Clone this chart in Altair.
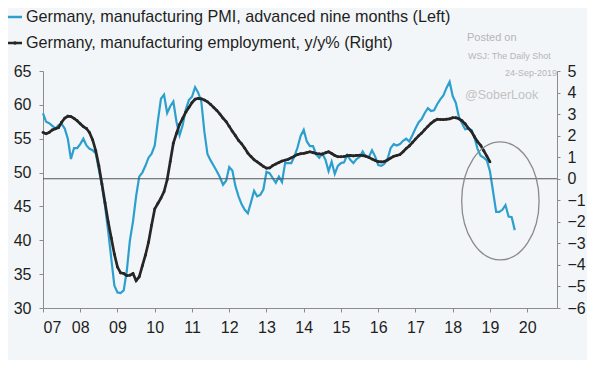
import altair as alt
import pandas as pd

# Germany manufacturing PMI, advanced nine months (left axis), monthly from Jan 2007
pmi = [58.75, 57.5, 57.3, 56.9, 56.5, 57.0, 57.2, 56.5, 55.0, 52.0,
       53.6, 53.6, 54.2, 55.0, 54.0, 53.5, 53.3, 52.8, 50.4, 48.0,
       45.0, 41.3, 37.3, 33.3, 32.3, 32.2, 32.6, 35.5, 40.0, 42.8,
       46.5, 49.4, 50.0, 51.0, 52.2, 52.8, 54.0, 57.6, 60.9, 61.5,
       58.8, 59.8, 60.5, 57.5, 55.5, 57.0, 59.3, 60.7, 61.2, 62.6,
       61.8, 60.5, 56.0, 52.7, 51.8, 51.0, 50.2, 49.3, 48.2, 48.8,
       50.8, 50.3, 48.0, 46.5, 45.3, 44.5, 44.0, 45.6, 47.3, 46.5,
       46.7, 47.5, 50.1, 49.9, 49.2, 48.5, 49.4, 48.6, 51.4, 51.4,
       51.4, 52.4, 53.7, 55.4, 56.3, 54.6, 53.9, 53.9, 52.7, 52.2,
       52.8, 51.9, 50.2, 51.6, 49.8, 51.0, 51.4, 51.5, 52.6, 51.9,
       51.4, 52.0, 52.3, 53.1, 52.3, 52.3, 53.3, 52.4, 51.1, 51.0,
       51.3, 52.0, 53.6, 54.2, 54.0, 54.2, 54.7, 55.0, 54.6, 55.5,
       56.5, 57.4, 57.9, 58.8, 59.5, 59.1, 59.2, 60.1, 60.8, 61.4,
       62.5, 63.4, 61.3, 60.3, 58.2, 57.3, 56.4, 56.5, 56.3, 55.2,
       53.5, 52.5, 52.2, 51.8, 50.2, 47.2, 44.2, 44.2, 44.5, 45.2,
       43.5, 43.4, 41.5]

# Germany manufacturing employment y/y % (right axis), monthly from Jan 2007
emp = [2.15, 2.09, 2.15, 2.26, 2.32, 2.37, 2.62, 2.81, 2.90, 2.88,
       2.80, 2.69, 2.55, 2.42, 2.33, 2.14, 1.80, 1.30, 0.60, -0.25,
       -1.13, -2.00, -2.75, -3.50, -4.10, -4.37, -4.40, -4.50, -4.48, -4.40,
       -4.73, -4.55, -4.05, -3.55, -2.95, -2.15, -1.40, -1.15, -0.90, -0.60,
       -0.05, 0.80, 1.65, 2.10, 2.52, 2.80, 3.09, 3.31, 3.53, 3.69,
       3.73, 3.71, 3.65, 3.57, 3.45, 3.31, 3.17, 3.00, 2.81, 2.65,
       2.43, 2.20, 2.00, 1.78, 1.62, 1.42, 1.19, 1.03, 0.88, 0.78,
       0.68, 0.57, 0.49, 0.50, 0.61, 0.68, 0.75, 0.82, 0.86, 0.90,
       0.97, 1.05, 1.12, 1.16, 1.18, 1.21, 1.25, 1.21, 1.17, 1.15,
       1.14, 1.20, 1.25, 1.17, 1.08, 1.02, 1.02, 1.03, 1.07, 1.08,
       1.06, 1.08, 1.09, 1.07, 1.05, 0.99, 0.91, 0.85, 0.79, 0.78,
       0.80, 0.87, 0.96, 1.04, 1.08, 1.12, 1.25, 1.40, 1.52, 1.68,
       1.84, 1.99, 2.12, 2.28, 2.43, 2.57, 2.68, 2.76, 2.75, 2.74,
       2.76, 2.78, 2.83, 2.83, 2.78, 2.69, 2.55, 2.35, 2.20, 1.95,
       1.72, 1.55, 1.30, 1.05, 0.78]

start_year = 2007
year_ticks = list(range(2007, 2021))
left_ticks = [30, 35, 40, 45, 50, 55, 60, 65]
right_ticks = [-6, -5, -4, -3, -2, -1, 0, 1, 2, 3, 4, 5]

legend_labels = ["Germany, manufacturing PMI, advanced nine months (Left)",
                 "Germany, manufacturing employment, y/y% (Right)"]

# highlighted region (circle annotation) centre, in data units
circle_t = [2019.28]
circle_v = [-1.03]

df_pmi = pd.DataFrame({"t": [start_year + i / 12 for i in range(len(pmi))], "v": pmi})
df_emp = pd.DataFrame({"t": [start_year + i / 12 for i in range(len(emp))], "v": emp})

BLUE = "#2d9fcf"
BLACK = "#262626"
FONT = "Liberation Sans"

x_scale = alt.Scale(domain=[2007, 2020.8], nice=False, zero=False)
left_scale = alt.Scale(domain=[30, 65], nice=False, zero=False)
right_scale = alt.Scale(domain=[-6, 5], nice=False, zero=False)

x_axis = alt.Axis(values=year_ticks, labelExpr="substring(toString(datum.value), 2)",
                  grid=False, title=None, domainColor="#8c8c8c", tickColor="#8c8c8c",
                  tickSize=4, labelPadding=7, labelFontSize=16, labelColor="#1e1e1e",
                  labelFont=FONT)
left_axis = alt.Axis(values=left_ticks, orient="left", grid=False, title=None,
                     domainColor="#8c8c8c", tickColor="#8c8c8c", tickSize=4,
                     labelPadding=8, labelFontSize=16, labelColor="#1e1e1e",
                     labelFont=FONT)
right_axis = alt.Axis(values=right_ticks, orient="right", grid=False, title=None,
                      domainColor="#8c8c8c", tickColor="#8c8c8c", tickSize=3,
                      labelPadding=7, labelFontSize=16, labelColor="#1e1e1e",
                      labelFont=FONT)

pmi_line = alt.Chart(df_pmi).mark_line(color=BLUE, strokeWidth=2.2).encode(
    x=alt.X("t:Q", scale=x_scale, axis=x_axis),
    y=alt.Y("v:Q", scale=left_scale, axis=left_axis),
)

zero_rule = alt.Chart(pd.DataFrame({"z": [0]})).mark_rule(color="#555", strokeWidth=1.2).encode(
    y=alt.Y("z:Q", scale=right_scale, axis=right_axis)
)

emp_line = alt.Chart(df_emp).mark_line(
    color=BLACK, strokeWidth=2.7,
    point=alt.OverlayMarkDef(color=BLACK, size=8, filled=True)
).encode(
    x=alt.X("t:Q", scale=x_scale, axis=x_axis),
    y=alt.Y("v:Q", scale=right_scale, axis=right_axis),
)

ellipse_path = "M -0.656,0 A 0.656,1 0 1,1 0.656,0 A 0.656,1 0 1,1 -0.656,0 Z"
ellipse = alt.Chart(pd.DataFrame({"t": circle_t, "v": circle_v})).mark_point(
    shape=ellipse_path, size=13924, filled=False, stroke="#8a8a8a", strokeWidth=1.3, opacity=1
).encode(
    x=alt.X("t:Q", scale=x_scale, axis=x_axis),
    y=alt.Y("v:Q", scale=right_scale, axis=right_axis),
)

right_layer = alt.layer(zero_rule, emp_line, ellipse)

# legend
leg1_sym = alt.Chart(pd.DataFrame({"a": [0]})).mark_rule(color=BLUE, strokeWidth=2.5).encode(
    x=alt.value(-35), x2=alt.value(-21), y=alt.value(-54))
leg2_sym = alt.Chart(pd.DataFrame({"a": [0]})).mark_rule(color=BLACK, strokeWidth=2.5).encode(
    x=alt.value(-35), x2=alt.value(-21), y=alt.value(-28))
leg2_dot = alt.Chart(pd.DataFrame({"a": [0]})).mark_point(color=BLACK, size=12, filled=True, opacity=1).encode(
    x=alt.value(-28), y=alt.value(-28))
leg1_txt = alt.Chart(pd.DataFrame({"label": [legend_labels[0]]})).mark_text(
    align="left", baseline="middle", fontSize=16.2, font=FONT, color="#1e1e1e"
).encode(x=alt.value(-17), y=alt.value(-54), text="label:N")
leg2_txt = alt.Chart(pd.DataFrame({"label": [legend_labels[1]]})).mark_text(
    align="left", baseline="middle", fontSize=16.2, font=FONT, color="#1e1e1e"
).encode(x=alt.value(-17), y=alt.value(-28), text="label:N")

# watermarks
wm_posted = alt.Chart(pd.DataFrame({"label": ["Posted on"]})).mark_text(
    align="left", baseline="middle", fontSize=11, font=FONT, color="#b5b5b5"
).encode(x=alt.value(424), y=alt.value(-33), text="label:N")
wm_wsj = alt.Chart(pd.DataFrame({"label": ["WSJ: The Daily Shot"]})).mark_text(
    align="left", baseline="middle", fontSize=9, font=FONT, color="#b5b5b5"
).encode(x=alt.value(425), y=alt.value(-15), text="label:N")
wm_date = alt.Chart(pd.DataFrame({"label": ["24-Sep-2019"]})).mark_text(
    align="right", baseline="middle", fontSize=9, font=FONT, color="#b5b5b5"
).encode(x=alt.value(514), y=alt.value(2), text="label:N")
wm_sober = alt.Chart(pd.DataFrame({"label": ["@SoberLook"]})).mark_text(
    align="left", baseline="middle", fontSize=12.5, font=FONT, color="#c2c2c2"
).encode(x=alt.value(422), y=alt.value(24), text="label:N")

chart = alt.layer(
    pmi_line, right_layer,
    leg1_sym, leg2_sym, leg2_dot, leg1_txt, leg2_txt,
    wm_posted, wm_wsj, wm_date, wm_sober,
).resolve_scale(y="independent").properties(
    width=514, height=237,
    autosize=alt.AutoSizeParams(type="none"),
    padding={"left": 35, "top": 63, "right": 30, "bottom": 52},
    background="#f3f6f8",
).configure_view(stroke=None)

chart.save("out.html", embed_options={"renderer": "svg", "actions": False})
